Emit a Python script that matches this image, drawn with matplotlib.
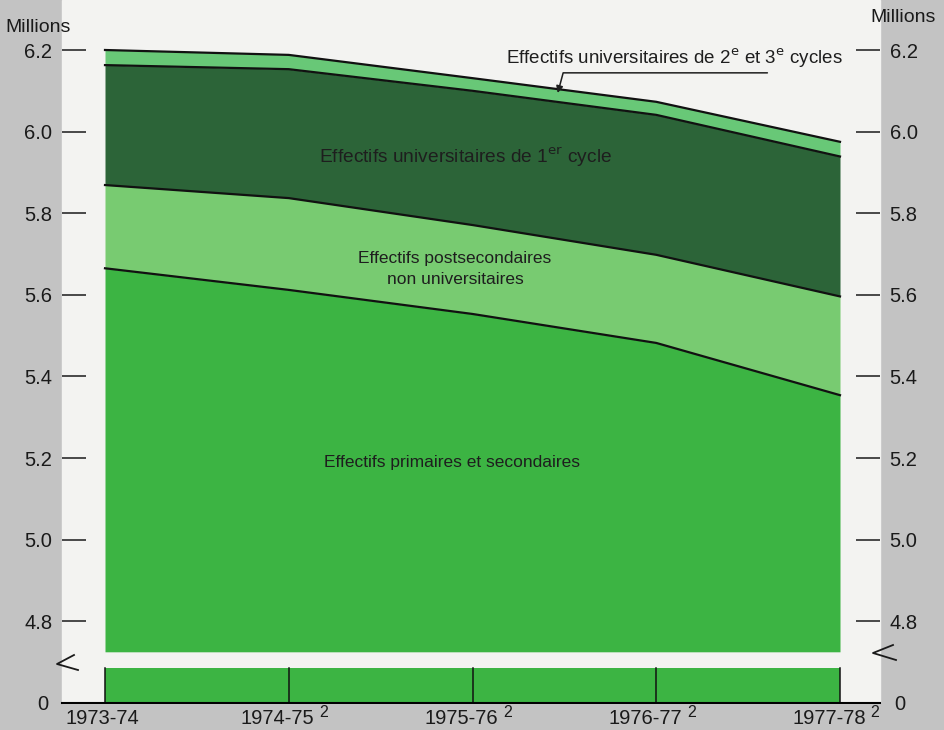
"""Effectifs scolaires 1973-74 a 1977-78 (graphique en aires empilees, axe coupe)."""
import numpy as np
import matplotlib; matplotlib.use("Agg"); import matplotlib.pyplot as plt
from matplotlib.lines import Line2D
from matplotlib.patches import Rectangle

plt.rcParams["font.family"] = ["Liberation Sans", "DejaVu Sans"]

years = ["1973-74", "1974-75", "1975-76", "1976-77", "1977-78"]
notes = ["", "2", "2", "2", "2"]
# cumulative levels, millions
primaire = [5.665, 5.612, 5.553, 5.482, 5.354]
postsec_top = [5.869, 5.837, 5.771, 5.698, 5.596]
cycle1_top = [6.163, 6.153, 6.100, 6.041, 5.939]
total = [6.200, 6.188, 6.131, 6.073, 5.975]
base = 4.725
yticks = [4.8, 5.0, 5.2, 5.4, 5.6, 5.8, 6.0, 6.2]

W, H = 944, 730
GREY, PAPER = "#c3c3c3", "#f3f3f1"
C_PRIM, C_POST, C_C1, C_C23 = "#3cb443", "#78cb71", "#2c6438", "#68c877"
INK = "#1a1a1a"

fig = plt.figure(figsize=(W / 100, H / 100), dpi=100, facecolor=GREY)
def fx(px): return px / W
def fy(py): return 1 - py / H
fig.patches.append(Rectangle((fx(62), fy(703)), fx(880 - 62), 703 / H,
                             transform=fig.transFigure, color=PAPER, zorder=-5))

x = np.arange(len(years))
xl = (-(105 - 62) / 183.75, 4 + (880 - 840) / 183.75)

# upper panel
ax = fig.add_axes([fx(62), fy(660), fx(818), 660 / H])
ax.set_facecolor("none")
ax.fill_between(x, base, primaire, color=C_PRIM, lw=0)
ax.fill_between(x, primaire, postsec_top, color=C_POST, lw=0)
ax.fill_between(x, postsec_top, cycle1_top, color=C_C1, lw=0)
ax.fill_between(x, cycle1_top, total, color=C_C23, lw=0)
for s in (primaire, postsec_top, cycle1_top, total):
    ax.plot(x, s, color="#111111", lw=1.6)
ax.set_xlim(*xl)
ax.set_ylim(6.2 - 610 / 408, 6.2 + 50 / 408)
for sp in ax.spines.values(): sp.set_visible(False)
ax.set_xticks([])
ax.set_yticks(yticks, [f"{v:.1f}" for v in yticks])
ax.tick_params(axis="y", direction="in", length=17, width=1.1, pad=7, labelsize=14.5,
               left=True, right=True, labelleft=True, labelright=True, colors=INK)

kw = dict(ha="center", va="center", fontsize=12.5, color="#1e1e1e")
ax.text(1.96, 5.938, "Effectifs universitaires de 1$^{\\rm er}$ cycle", **{**kw, "fontsize": 13.8})
ax.text(1.905, 5.663, "Effectifs postsecondaires\nnon universitaires", linespacing=1.45, **kw)
ax.text(1.89, 5.19, "Effectifs primaires et secondaires", **kw)
ax.text(3.10, 6.18, "Effectifs universitaires de 2$^{\\rm e}$ et 3$^{\\rm e}$ cycles",
        **{**kw, "fontsize": 13.5})
ax.annotate("", xy=(2.46, 6.088), xytext=(3.62, 6.144),
            arrowprops=dict(arrowstyle="-|>", color="#1e1e1e", lw=1.1,
                            connectionstyle="angle,angleA=0,angleB=75,rad=0"))

# lower panel (0 to break)
ax2 = fig.add_axes([fx(62), fy(703), fx(818), 43 / H])
ax2.set_facecolor("none")
ax2.fill_between(x, 0, 1, color=C_PRIM, lw=0)
for xi in x:
    ax2.plot([xi, xi], [0, 1], color="#111111", lw=1.1)
ax2.set_xlim(*xl); ax2.set_ylim(0, 43 / 35)
for k in ("top", "left", "right"): ax2.spines[k].set_visible(False)
ax2.spines["bottom"].set_linewidth(1.5)
ax2.set_yticks([0], ["0"])
ax2.tick_params(axis="y", length=0, pad=10, labelsize=14.5, labelleft=True, labelright=True,
                colors=INK)
ax2.set_xticks([])
for xi, yr, n in zip(x, years, notes):
    dx = -8 if n else -2
    ax2.annotate(yr, xy=(xi, 0), xytext=(dx, -11), textcoords="offset points",
                 ha="center", va="center", fontsize=14.5, color=INK, annotation_clip=False)
    if n:
        ax2.annotate(n, xy=(xi, 0), xytext=(22, -7), textcoords="offset points",
                     ha="left", va="center", fontsize=11.5, color=INK, annotation_clip=False)

# break marks and unit labels
for pts in ([(74, 655), (57, 664), (78, 670)], [(893, 645), (873, 653), (896, 660)]):
    fig.add_artist(Line2D([fx(p[0]) for p in pts], [fy(p[1]) for p in pts],
                          color=INK, lw=1.3, transform=fig.transFigure))
fig.text(fx(5), fy(27), "Millions", fontsize=14, va="center", ha="left", color=INK)
fig.text(fx(936), fy(17), "Millions", fontsize=14, va="center", ha="right", color=INK)

fig.savefig("out.png", dpi=100, facecolor=GREY)
